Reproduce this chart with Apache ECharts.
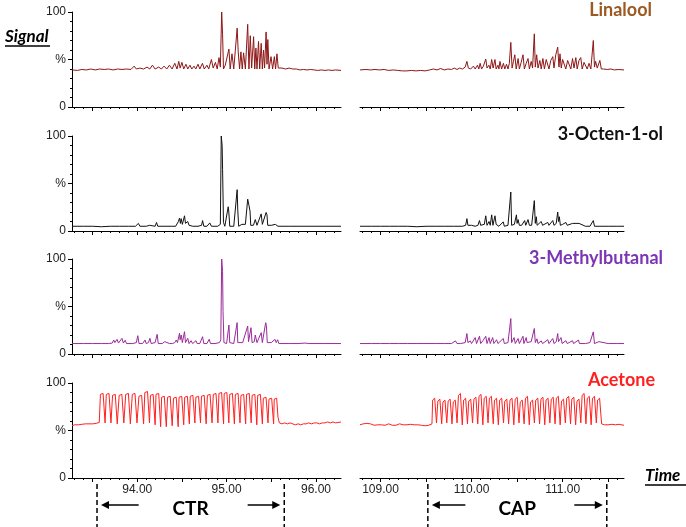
<!DOCTYPE html>
<html><head><meta charset="utf-8">
<script src="https://cdn.jsdelivr.net/npm/echarts@6/dist/echarts.min.js"></script>
<style>html,body{margin:0;padding:0;background:#fff}#c{width:686px;height:527px}</style>
</head><body><div id="c"></div>
<script>
const compounds = ['Linalool','3-Octen-1-ol','3-Methylbutanal','Acetone'];
const titleColors = ['#9C5A22','#111111','#7B35B5','#FF1F1F'];
const lineColors = ['#8E1616','#111111','#9A2A9A','#FF2020'];

const leftRange = [93.27, 96.28];
const rightRange = [108.775, 111.674];
const leftMajorTicks = [93.5,94,94.5,95,95.5,96];
const leftMinorTicks = [93.3,93.4,93.6,93.7,93.8,93.9,94.1,94.2,94.3,94.4,94.6,94.7,94.8,94.9,95.1,95.2,95.3,95.4,95.6,95.7,95.8,95.9,96.1,96.2];
const leftTickLabels = [94,95,96];
const rightMajorTicks = [109,109.5,110,110.5,111,111.5];
const rightMinorTicks = [108.8,108.9,109.1,109.2,109.3,109.4,109.6,109.7,109.8,109.9,110.1,110.2,110.3,110.4,110.6,110.7,110.8,110.9,111.1,111.2,111.3,111.4,111.6];
const rightTickLabels = [109,110,111];
const yTickLabels = {0:'0', 50:'%', 100:'100'};
const ctrBounds = [93.55, 95.645];
const capBounds = [109.52, 111.485];

const linaloolCTR = [[93.27,39],[93.33,38.5],[93.38,39.5],[93.43,39],[93.48,40],[93.53,39],[93.58,40],[93.63,39.5],[93.68,40],[93.73,39],[93.78,40],[93.83,39.5],[93.88,40],[93.93,39.5],[93.965,43],[93.99,40],[94.03,41],[94.07,40],[94.11,42],[94.14,40],[94.17,44],[94.20,40],[94.24,42],[94.27,40],[94.30,43],[94.33,40],[94.36,44],[94.39,40],
[94.42,46],[94.445,40],[94.465,48],[94.48,41],[94.50,47],[94.52,40],[94.545,45],[94.565,40],[94.59,44],[94.61,40],[94.635,43],[94.655,40],[94.68,45],[94.70,40],[94.73,46],[94.75,40],[94.78,44],[94.80,40],[94.83,50],[94.85,41],[94.875,47],[94.895,40],[94.915,52],[94.93,42],[94.945,100],[94.955,76],[94.965,40],[94.985,44],[95.005,42],[95.026,61],[95.04,40],[95.06,56],[95.08,40],[95.10,41],[95.118,83],[95.13,58],[95.145,40],[95.16,58],[95.175,40],[95.19,57],[95.21,40],[95.236,87],[95.25,40],[95.265,75],[95.28,41],[95.302,74],[95.315,40],[95.328,62],[95.34,40],[95.357,69],[95.37,40],[95.387,67],[95.40,40],[95.413,60],[95.425,41],[95.442,79],[95.452,45],[95.461,71],[95.475,40],[95.497,53],[95.515,40],[95.534,53],[95.548,40],[95.563,56],[95.578,41],[95.597,42],[95.62,41],[95.66,40],[95.70,41],[95.74,40],[95.78,40],[95.82,39],[95.86,39.5],[95.90,39],[95.94,39.5],[95.98,39],[96.02,38.5],[96.06,39],[96.10,38.5],[96.14,39],[96.18,38.5],[96.22,39],[96.28,38.5]];

const linaloolCAP = [[108.775,39],[108.84,39.5],[108.89,39],[108.94,39.5],[108.99,39],[109.04,39.5],[109.09,38.5],[109.14,39],[109.19,38.5],[109.24,38],[109.29,38],[109.34,38.5],[109.39,38],[109.44,38.5],[109.49,38],[109.54,39],[109.58,40],[109.62,39],[109.66,40.5],[109.70,39],[109.74,40],[109.78,39.5],[109.81,41],[109.84,39.5],[109.87,41],[109.90,40],[109.93,42],[109.949,48],[109.965,41],[109.99,40],[110.02,43],[110.04,40],[110.065,44],[110.08,40],[110.094,46],[110.11,40],[110.13,43],[110.142,41],[110.156,50.5],[110.17,41],[110.19,44],[110.205,40],[110.221,50],[110.237,41],[110.257,50],[110.27,40],[110.29,44],[110.30,40],[110.312,48],[110.33,40],[110.35,46],[110.365,40],[110.384,45],[110.40,40],[110.415,46],[110.431,68],[110.445,41],[110.46,48],[110.475,55],[110.49,40],[110.511,51],[110.525,40],[110.545,47],[110.565,55],[110.58,40],[110.60,46],[110.62,51],[110.635,40],[110.655,48],[110.67,41],[110.689,77],[110.70,42],[110.715,55],[110.73,41],[110.75,49],[110.765,40],[110.783,51],[110.80,40],[110.82,50],[110.837,51],[110.85,40],[110.87,49],[110.892,53],[110.905,41],[110.925,55],[110.946,63],[110.96,42],[110.971,56],[110.985,41],[111.00,50],[111.018,51],[111.035,40],[111.055,49],[111.072,51],[111.09,40],[111.109,51],[111.125,41],[111.145,52],[111.16,40],[111.18,49],[111.199,52],[111.215,40],[111.235,47],[111.254,45],[111.27,40],[111.29,46],[111.31,40],[111.337,70],[111.35,42],[111.362,48],[111.38,41],[111.409,49],[111.425,40],[111.45,40],[111.49,39.5],[111.53,40],[111.57,39],[111.61,39.5],[111.674,39]];

const octenolCTR = [[93.27,5],[93.40,5],[93.50,5],[93.60,4.5],[93.70,5],[93.80,5],[93.90,5],[93.98,5],[94.013,8],[94.03,5],[94.10,5],[94.14,6],[94.16,5],[94.20,5],[94.216,9],[94.23,5],[94.30,5],[94.38,5],[94.43,5],[94.46,10],[94.473,13.5],[94.483,8],[94.492,13],[94.505,7],[94.529,16],[94.54,8],[94.55,6],[94.565,10],[94.58,6],[94.602,8],[94.62,5],[94.68,5],[94.72,6],[94.731,11],[94.745,5],[94.78,5],[94.80,6],[94.812,8.5],[94.83,5],[94.86,5],[94.90,5],[94.93,7],[94.94,100],[94.95,90],[94.955,65],[94.965,9],[94.98,5],[95.00,5],[95.018,25.5],[95.025,20],[95.035,5],[95.08,5],[95.10,6],[95.118,43.5],[95.125,22],[95.135,5],[95.17,7],[95.19,6],[95.21,7],[95.236,33.5],[95.25,27],[95.262,21],[95.27,6],[95.285,8],[95.30,6],[95.321,12],[95.33,11],[95.34,6],[95.36,7],[95.387,18],[95.40,7],[95.42,8],[95.442,19.5],[95.452,17],[95.46,6],[95.50,6],[95.52,5],[95.545,7],[95.56,7],[95.575,5],[95.62,5],[95.70,5],[95.80,5],[95.90,5],[96.00,5],[96.10,5],[96.28,5]];

const octenolCAP = [[108.775,5],[108.90,5],[109.00,5],[109.10,5],[109.20,5],[109.30,5],[109.40,4.5],[109.50,5],[109.60,5],[109.70,5],[109.80,5],[109.90,5],[109.935,6],[109.949,13],[109.96,6],[110.00,6],[110.04,5],[110.07,6],[110.087,11],[110.10,6],[110.14,7],[110.156,16],[110.17,6],[110.192,10],[110.205,6],[110.221,17],[110.235,6],[110.257,16],[110.27,7],[110.285,6],[110.30,5],[110.348,9.6],[110.36,5],[110.40,6],[110.42,6],[110.431,41],[110.44,6],[110.457,8],[110.47,7],[110.493,17],[110.50,8],[110.511,12],[110.525,6],[110.55,6],[110.583,11],[110.595,6],[110.62,12],[110.635,6],[110.66,6],[110.689,32],[110.70,8],[110.711,15],[110.72,6],[110.765,10],[110.78,6],[110.80,6],[110.837,9],[110.85,6],[110.892,11],[110.905,6],[110.93,8],[110.946,20],[110.955,10],[110.964,15],[110.975,6],[111.00,7],[111.036,9],[111.05,6],[111.109,8],[111.12,6],[111.181,8],[111.19,6],[111.25,5],[111.30,5],[111.337,11],[111.35,5],[111.40,5],[111.50,5],[111.60,5],[111.674,5]];

const methylbutanalCTR = [[93.27,11],[93.40,11],[93.50,11],[93.60,11],[93.64,11],[93.662,13],[93.68,11],[93.72,11.5],[93.737,14.7],[93.75,12],[93.774,15.4],[93.79,11.5],[93.81,12],[93.829,16.5],[93.845,11.5],[93.865,14.5],[93.88,11],[93.95,11],[93.99,12],[94.006,19.3],[94.02,11],[94.06,11],[94.087,14.7],[94.10,11],[94.125,12],[94.142,16.5],[94.155,11],[94.20,12],[94.223,20.7],[94.235,11],[94.28,11],[94.308,13],[94.32,11],[94.36,11],[94.381,13],[94.395,11],[94.42,12],[94.436,14.7],[94.45,12],[94.473,21.8],[94.48,15],[94.492,20],[94.505,12],[94.529,23.5],[94.54,12],[94.565,16.5],[94.58,11],[94.602,14],[94.62,11],[94.657,14],[94.67,11],[94.70,11],[94.731,18.2],[94.745,11],[94.78,11],[94.805,15.5],[94.82,11],[94.87,11],[94.92,12],[94.935,15],[94.945,100],[94.955,86.7],[94.96,44.6],[94.97,12],[95.00,11],[95.026,30.5],[95.035,12],[95.08,11],[95.118,33],[95.125,12],[95.18,12],[95.20,13],[95.236,29.5],[95.245,13],[95.273,27.7],[95.285,12],[95.31,13],[95.321,20],[95.33,18],[95.34,12],[95.36,13],[95.387,22.5],[95.40,12],[95.42,13],[95.437,33],[95.445,30],[95.455,12],[95.50,12],[95.52,12],[95.541,15.4],[95.555,12],[95.571,15],[95.585,11],[95.62,11],[95.70,11],[95.80,11],[95.88,11.5],[95.92,11],[96.00,11],[96.10,11],[96.28,11]];

const methylbutanalCAP = [[108.775,11],[108.90,11],[109.00,11],[109.10,11],[109.20,11],[109.30,11],[109.40,11],[109.50,11],[109.60,11],[109.70,11],[109.78,11],[109.80,12],[109.823,13.8],[109.84,11],[109.88,11],[109.93,12],[109.949,21.5],[109.96,12],[109.986,13.8],[110.00,11],[110.04,17.3],[110.055,11],[110.087,18.7],[110.10,11],[110.125,14],[110.156,18.7],[110.17,11],[110.192,17.3],[110.205,11],[110.232,17.3],[110.245,11],[110.275,15],[110.29,11],[110.348,16.3],[110.36,11],[110.40,12],[110.431,37.3],[110.44,12],[110.467,17.3],[110.48,11],[110.511,16.3],[110.525,11],[110.565,18.7],[110.575,11],[110.60,17.3],[110.61,12],[110.655,13],[110.689,26.8],[110.70,12],[110.718,16],[110.73,11],[110.765,13.8],[110.78,11],[110.837,15],[110.85,11],[110.892,16.3],[110.905,11],[110.93,13],[110.946,21.5],[110.955,13],[110.982,17.3],[110.995,11],[111.036,14],[111.05,11],[111.109,14],[111.12,11],[111.174,14.7],[111.185,11],[111.25,11],[111.30,12],[111.337,23.3],[111.35,11],[111.399,13],[111.41,11],[111.50,11],[111.60,11],[111.674,11]];

const acetoneCTR = [[93.27,55],[93.30,56],[93.32,55],[93.34,56],[93.36,55.5],[93.38,56.5],[93.40,56],[93.42,57],[93.44,56],[93.46,57],[93.48,57.5],[93.50,57],[93.52,58],[93.54,57.5],[93.56,58],[93.575,58.5],
[93.588,88],[93.618,89],[93.640,58],[93.654,88],[93.684,89],[93.706,58],[93.724,87],[93.754,88],[93.776,57],[93.798,87],[93.828,88],[93.850,58],[93.871,88],[93.901,89],[93.923,57],[93.945,88],[93.975,89],[93.997,58],[94.019,86],[94.049,87],[94.071,57],[94.085,90],[94.115,91],[94.137,58],[94.148,87],[94.178,88],[94.200,56],[94.210,88],[94.240,89],[94.262,54],[94.273,85],[94.303,86],[94.325,54],[94.339,85],[94.369,86],[94.391,55],[94.406,84],[94.436,85],[94.458,54],[94.468,85],[94.498,86],[94.520,56],[94.531,85],[94.561,86],[94.583,57],[94.593,86],[94.623,87],[94.645,58],[94.656,85],[94.686,86],[94.708,58],[94.719,86],[94.749,87],[94.771,57],[94.785,87],[94.815,88],[94.837,58],[94.851,88],[94.881,89],[94.903,58],[94.914,89],[94.944,90],[94.966,57],[94.973,89],[95.003,90],[95.025,58],[95.035,88],[95.065,89],[95.087,57],[95.098,88],[95.128,89],[95.150,58],[95.161,87],[95.191,88],[95.213,57],[95.223,88],[95.253,89],[95.275,58],[95.286,87],[95.316,88],[95.338,56],[95.348,87],[95.378,88],[95.400,57],[95.411,84],[95.441,85],[95.463,58],[95.474,83],[95.504,84],[95.526,57],[95.533,83],[95.560,84],[95.575,64],[95.59,58],
[95.62,57],[95.65,58],[95.68,57],[95.71,58],[95.74,57],[95.77,56],[95.80,57],[95.83,56],[95.86,57],[95.89,57],[95.92,58],[95.95,57],[95.98,58],[96.01,58],[96.04,57],[96.07,58],[96.10,58],[96.13,59],[96.16,58],[96.19,59],[96.22,58],[96.28,59]];

const acetoneCAP = [[108.775,56],[108.81,57],[108.83,56],[108.85,57.5],[108.87,56],[108.89,57],[108.91,56.5],[108.93,55.5],[108.95,56.5],[108.97,56],[108.99,57],[109.01,56],[109.03,57],[109.05,55.5],[109.07,56],[109.09,57],[109.11,56],[109.13,55.5],[109.15,56.5],[109.17,55.5],[109.19,56],[109.21,57],[109.23,55.5],[109.25,56],[109.27,55],[109.29,56],[109.31,55.5],[109.33,56.5],[109.35,55],[109.37,56],[109.39,55.5],[109.41,56],[109.43,55],[109.45,55.5],[109.47,56.5],[109.49,55],[109.51,56],[109.53,55.5],[109.55,56],[109.565,57],
[109.573,82],[109.595,84],[109.615,58],[109.630,81],[109.652,83],[109.672,57],[109.686,80],[109.708,82],[109.728,58],[109.743,81],[109.765,83],[109.785,57],[109.799,80],[109.821,82],[109.841,58],[109.856,87],[109.878,89],[109.898,56],[109.913,82],[109.935,84],[109.955,57],[109.969,81],[109.991,83],[110.011,58],[110.026,83],[110.048,85],[110.068,57],[110.082,86],[110.104,88],[110.124,56],[110.139,84],[110.161,86],[110.181,58],[110.196,84],[110.218,86],[110.238,57],[110.252,82],[110.274,84],[110.294,56],[110.309,82],[110.331,84],[110.351,58],[110.365,81],[110.387,83],[110.407,57],[110.422,82],[110.444,84],[110.464,56],[110.479,83],[110.501,85],[110.521,58],[110.535,80],[110.557,82],[110.577,57],[110.592,84],[110.614,86],[110.634,56],[110.648,80],[110.670,82],[110.690,58],[110.705,82],[110.727,84],[110.747,57],[110.762,83],[110.784,85],[110.804,56],[110.818,82],[110.840,84],[110.860,58],[110.875,83],[110.897,85],[110.917,57],[110.931,84],[110.953,86],[110.973,56],[110.988,81],[111.010,83],[111.030,58],[111.045,84],[111.067,86],[111.087,57],[111.101,83],[111.123,85],[111.143,56],[111.158,81],[111.180,83],[111.200,58],[111.214,87],[111.236,89],[111.256,57],[111.271,84],[111.293,86],[111.313,56],[111.328,84],[111.350,86],[111.370,58],[111.384,82],[111.406,84],[111.428,57],
[111.44,55.5],[111.46,56],[111.48,55],[111.50,56],[111.52,55.5],[111.54,56.5],[111.56,55],[111.58,56],[111.60,55.5],[111.62,56.5],[111.64,55],[111.674,55.5]];

const seriesData = [linaloolCTR, linaloolCAP, octenolCTR, octenolCAP, methylbutanalCTR, methylbutanalCAP, acetoneCTR, acetoneCAP];

// layout
const rowTops = [12, 136, 259, 383];
const panelH = 95;
const colLeft = [72, 360];
const colWidth = [269, 264];
const titleRight = [652, 663, 663, 655];
const titleY = [10, 134, 258, 380];
const FONT = '"Liberation Sans", Arial, sans-serif';

const grids = [], xAxes = [], xMinor = [], yAxes = [], series = [];
for (let r = 0; r < 4; r++) {
  for (let c = 0; c < 2; c++) {
    const i = r * 2 + c;
    grids.push({left: colLeft[c], top: rowTops[r], width: colWidth[c], height: panelH, containLabel: false, outerBoundsMode: 'none'});
    const range = c === 0 ? leftRange : rightRange;
    xAxes.push({
      type: 'value', gridIndex: i, position: 'bottom', min: range[0], max: range[1],
      axisLine: {show: true, onZero: false, lineStyle: {color: '#000', width: 1}},
      axisTick: {show: true, customValues: c === 0 ? leftMajorTicks : rightMajorTicks, length: 4, lineStyle: {color: '#000', width: 1}},
      axisLabel: {show: r === 3, customValues: c === 0 ? leftTickLabels : rightTickLabels,
        formatter: v => Number(v).toFixed(2), fontSize: 12, color: '#222', margin: 6, fontFamily: FONT},
      splitLine: {show: false}
    });
    xMinor.push({
      type: 'value', gridIndex: i, position: 'bottom', min: range[0], max: range[1],
      axisLine: {show: false, onZero: false},
      axisTick: {show: true, customValues: c === 0 ? leftMinorTicks : rightMinorTicks, length: 2, lineStyle: {color: '#000', width: 1}},
      axisLabel: {show: false},
      splitLine: {show: false}
    });
    yAxes.push({
      type: 'value', gridIndex: i, min: 0, max: 100, interval: 50, show: c === 0,
      axisLine: {show: true, onZero: false, lineStyle: {color: '#000', width: 1}},
      axisTick: {show: true, length: 4, lineStyle: {color: '#000'}},
      minorTick: {show: true, splitNumber: 5, length: 2, lineStyle: {color: '#000'}},
      axisLabel: {show: true, formatter: v => yTickLabels[v] || '', fontSize: 12, color: '#222', margin: 6, fontFamily: FONT},
      splitLine: {show: false}, minorSplitLine: {show: false}
    });
    series.push({
      type: 'line', xAxisIndex: i, yAxisIndex: i, data: seriesData[i],
      showSymbol: false, symbol: 'none', silent: true,
      lineStyle: {width: 1, color: lineColors[r]}
    });
  }
}

const chart = echarts.init(document.getElementById('c'), null, {renderer: 'canvas'});
chart.setOption({
  animation: false,
  backgroundColor: '#fff',
  grid: grids,
  xAxis: xAxes.concat(xMinor),
  yAxis: yAxes,
  series: series
});

// annotations
const g = [];
for (let r = 0; r < 4; r++) {
  g.push({type: 'text', x: titleRight[r], y: titleY[r], style: {text: compounds[r], font: 'bold 18px Lato, "Open Sans", sans-serif', fill: titleColors[r], align: 'right', verticalAlign: 'middle'}});
}
g.push({type: 'text', x: 5, y: 37, style: {text: 'Signal', font: 'italic bold 17px Lato, sans-serif', fill: '#000', align: 'left', verticalAlign: 'middle'}});
g.push({type: 'line', shape: {x1: 5, y1: 46, x2: 50, y2: 46}, style: {stroke: '#000', lineWidth: 1.5}});
g.push({type: 'text', x: 645, y: 476, style: {text: 'Time', font: 'italic bold 17px Lato, sans-serif', fill: '#000', align: 'left', verticalAlign: 'middle'}});
g.push({type: 'line', shape: {x1: 645, y1: 485, x2: 686, y2: 485}, style: {stroke: '#000', lineWidth: 1.5}});

function bracket(axisIdx, bounds, label) {
  const x1 = chart.convertToPixel({xAxisIndex: axisIdx}, bounds[0]);
  const x2 = chart.convertToPixel({xAxisIndex: axisIdx}, bounds[1]);
  const mid = (x1 + x2) / 2;
  const ay = 505;
  [x1, x2].forEach(x => g.push({type: 'line', shape: {x1: x, y1: 484, x2: x, y2: 527}, style: {stroke: '#000', lineWidth: 1.5, lineDash: [5, 3]}}));
  g.push({type: 'line', shape: {x1: mid - 52, y1: ay, x2: x1 + 10, y2: ay}, style: {stroke: '#000', lineWidth: 1.5}});
  g.push({type: 'polygon', shape: {points: [[x1 + 4, ay], [x1 + 12, ay - 4], [x1 + 12, ay + 4]]}, style: {fill: '#000'}});
  g.push({type: 'line', shape: {x1: mid + 57, y1: ay, x2: x2 - 10, y2: ay}, style: {stroke: '#000', lineWidth: 1.5}});
  g.push({type: 'polygon', shape: {points: [[x2 - 4, ay], [x2 - 12, ay - 4], [x2 - 12, ay + 4]]}, style: {fill: '#000'}});
  g.push({type: 'text', x: mid, y: 509, style: {text: label, font: 'bold 19px Lato, sans-serif', fill: '#000', align: 'center', verticalAlign: 'middle'}});
}
bracket(6, ctrBounds, 'CTR');
bracket(7, capBounds, 'CAP');
chart.setOption({graphic: g});
</script>
</body></html>
